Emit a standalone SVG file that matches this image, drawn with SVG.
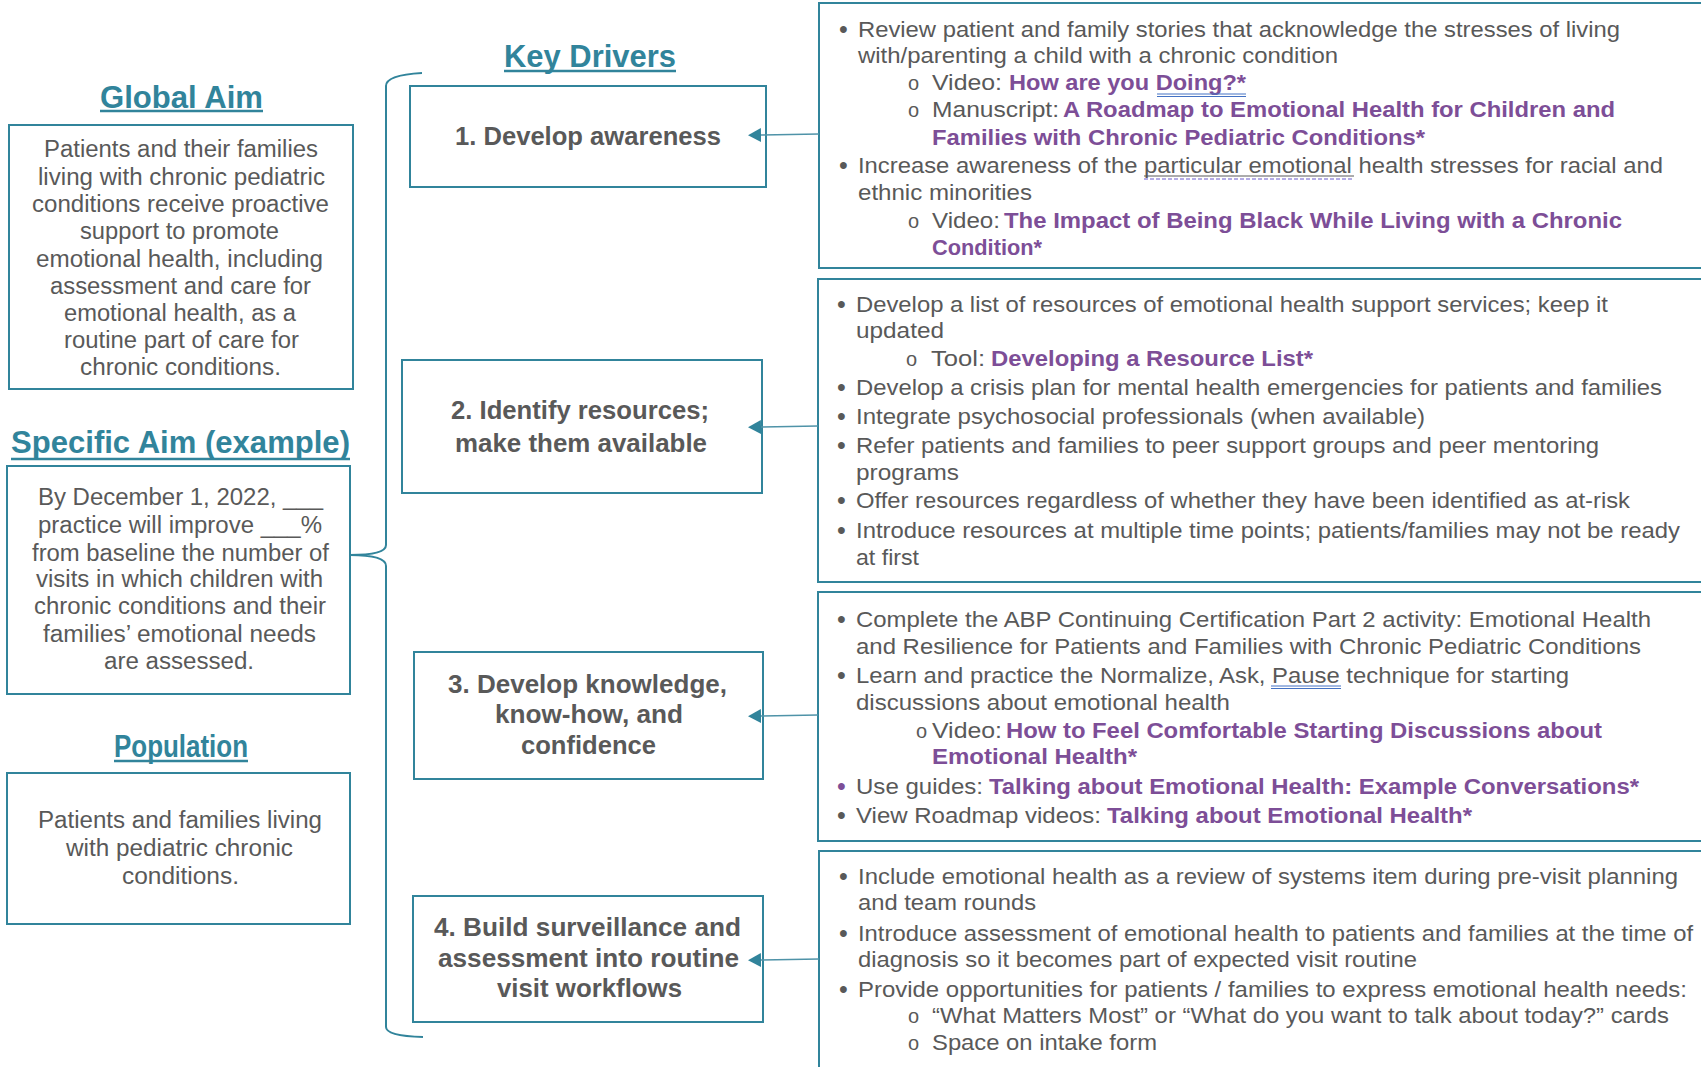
<svg xmlns="http://www.w3.org/2000/svg" width="1701" height="1067" viewBox="0 0 1701 1067">
<style>
text{font-family:'Liberation Sans',Arial,sans-serif;fill:#595959}
.box{fill:#fff;stroke:#31849B;stroke-width:2}
.ttl{fill:#31849B;font-weight:bold;font-size:31px}
.ul{stroke:#31849B;stroke-width:2.5}
.lt{font-size:23px}
.dr{font-size:25px;font-weight:bold}
.rt{font-size:22px}
.p{fill:#7D4E97;font-weight:bold;font-size:22px}
.bu{font-size:25px}
.so{font-size:20px}
.con{fill:none;stroke:#4f93a8;stroke-width:1.6}
.brace{fill:none;stroke:#31849B;stroke-width:2}
.sp{stroke:#4472C4;stroke-width:1}
</style>
<defs>
<marker id="ah" markerUnits="userSpaceOnUse" markerWidth="14" markerHeight="14" viewBox="0 0 14 14" refX="1" refY="7" orient="auto">
<path d="M14 0 L1 7 L14 14 Z" fill="#31849B" transform="rotate(180 7 7)"/>
</marker>
</defs>
<rect width="1701" height="1067" fill="#fff"/>

<g id="title-global-aim">
<text class="ttl" x="100" y="108" textLength="163" lengthAdjust="spacingAndGlyphs">Global Aim</text>
<line class="ul" x1="100" y1="111" x2="263" y2="111"/>
</g>
<g id="global-aim">
<rect class="box" x="9" y="125" width="344" height="264"/>
<text class="lt" x="44" y="157" textLength="274" lengthAdjust="spacingAndGlyphs">Patients and their families</text>
<text class="lt" x="38" y="185" textLength="287" lengthAdjust="spacingAndGlyphs">living with chronic pediatric</text>
<text class="lt" x="32" y="212" textLength="297" lengthAdjust="spacingAndGlyphs">conditions receive proactive</text>
<text class="lt" x="80" y="239" textLength="199" lengthAdjust="spacingAndGlyphs">support to promote</text>
<text class="lt" x="36" y="267" textLength="287" lengthAdjust="spacingAndGlyphs">emotional health, including</text>
<text class="lt" x="50" y="294" textLength="261" lengthAdjust="spacingAndGlyphs">assessment and care for</text>
<text class="lt" x="64" y="321" textLength="232" lengthAdjust="spacingAndGlyphs">emotional health, as a</text>
<text class="lt" x="64" y="348" textLength="235" lengthAdjust="spacingAndGlyphs">routine part of care for</text>
<text class="lt" x="80" y="375" textLength="201" lengthAdjust="spacingAndGlyphs">chronic conditions.</text>
</g>

<g id="title-specific-aim">
<text class="ttl" x="11" y="453" textLength="339" lengthAdjust="spacingAndGlyphs">Specific Aim (example)</text>
<line class="ul" x1="11" y1="459" x2="350" y2="459"/>
</g>
<g id="specific-aim">
<rect class="box" x="7" y="466" width="343" height="228"/>
<text class="lt" x="38" y="505" textLength="285" lengthAdjust="spacingAndGlyphs">By December 1, 2022, ___</text>
<text class="lt" x="38" y="533" textLength="284" lengthAdjust="spacingAndGlyphs">practice will improve ___%</text>
<text class="lt" x="32" y="561" textLength="297" lengthAdjust="spacingAndGlyphs">from baseline the number of</text>
<text class="lt" x="36" y="587" textLength="287" lengthAdjust="spacingAndGlyphs">visits in which children with</text>
<text class="lt" x="34" y="614" textLength="292" lengthAdjust="spacingAndGlyphs">chronic conditions and their</text>
<text class="lt" x="43" y="642" textLength="273" lengthAdjust="spacingAndGlyphs">families’ emotional needs</text>
<text class="lt" x="104" y="669" textLength="150" lengthAdjust="spacingAndGlyphs">are assessed.</text>
</g>

<g id="title-population">
<text class="ttl" x="114" y="757" textLength="134" lengthAdjust="spacingAndGlyphs">Population</text>
<line class="ul" x1="114" y1="761" x2="248" y2="761"/>
</g>
<g id="population">
<rect class="box" x="7" y="773" width="343" height="151"/>
<text class="lt" x="38" y="828" textLength="284" lengthAdjust="spacingAndGlyphs">Patients and families living</text>
<text class="lt" x="66" y="856" textLength="227" lengthAdjust="spacingAndGlyphs">with pediatric chronic</text>
<text class="lt" x="122" y="884" textLength="117" lengthAdjust="spacingAndGlyphs">conditions.</text>
</g>

<g id="title-key-drivers">
<text class="ttl" x="504" y="67" textLength="172" lengthAdjust="spacingAndGlyphs">Key Drivers</text>
<line class="ul" x1="504" y1="71" x2="676" y2="71"/>
</g>

<g id="driver-1">
<rect class="box" x="410" y="86" width="356" height="101"/>
<text class="dr" x="455" y="145" textLength="266" lengthAdjust="spacingAndGlyphs">1. Develop awareness</text>
</g>
<g id="driver-2">
<rect class="box" x="402" y="360" width="360" height="133"/>
<text class="dr" x="451" y="419" textLength="258" lengthAdjust="spacingAndGlyphs">2. Identify resources;</text>
<text class="dr" x="455" y="452" textLength="252" lengthAdjust="spacingAndGlyphs">make them available</text>
</g>
<g id="driver-3">
<rect class="box" x="414" y="652" width="349" height="127"/>
<text class="dr" x="448" y="693" textLength="279" lengthAdjust="spacingAndGlyphs">3. Develop knowledge,</text>
<text class="dr" x="495" y="723" textLength="188" lengthAdjust="spacingAndGlyphs">know-how, and</text>
<text class="dr" x="521" y="754" textLength="135" lengthAdjust="spacingAndGlyphs">confidence</text>
</g>
<g id="driver-4">
<rect class="box" x="413" y="896" width="350" height="126"/>
<text class="dr" x="434" y="936" textLength="307" lengthAdjust="spacingAndGlyphs">4. Build surveillance and</text>
<text class="dr" x="438" y="967" textLength="301" lengthAdjust="spacingAndGlyphs">assessment into routine</text>
<text class="dr" x="497" y="997" textLength="185" lengthAdjust="spacingAndGlyphs">visit workflows</text>
</g>

<g id="ideas-1">
<rect class="box" x="819" y="3" width="900" height="265"/>
<text class="bu" x="839" y="38">•</text>
<text class="rt" x="858" y="37" textLength="762" lengthAdjust="spacingAndGlyphs">Review patient and family stories that acknowledge the stresses of living</text>
<text class="rt" x="858" y="63" textLength="480" lengthAdjust="spacingAndGlyphs">with/parenting a child with a chronic condition</text>
<text class="so" x="908" y="90">o</text>
<text class="rt" x="932" y="90" textLength="70" lengthAdjust="spacingAndGlyphs">Video:</text>
<text class="p" x="1009" y="90" textLength="237" lengthAdjust="spacingAndGlyphs">How are you Doing?*</text>
<line class="sp" x1="1157" y1="94" x2="1246" y2="94"/>
<line class="sp" x1="1157" y1="96.5" x2="1246" y2="96.5"/>
<text class="so" x="908" y="117">o</text>
<text class="rt" x="932" y="117" textLength="127" lengthAdjust="spacingAndGlyphs">Manuscript:</text>
<text class="p" x="1063" y="117" textLength="552" lengthAdjust="spacingAndGlyphs">A Roadmap to Emotional Health for Children and</text>
<text class="p" x="932" y="145" textLength="493" lengthAdjust="spacingAndGlyphs">Families with Chronic Pediatric Conditions*</text>
<text class="bu" x="839" y="174">•</text>
<text class="rt" x="858" y="173" textLength="805" lengthAdjust="spacingAndGlyphs">Increase awareness of the particular emotional health stresses for racial and</text>
<line x1="1144" y1="176" x2="1354" y2="176" stroke="#595959" stroke-width="1"/>
<line x1="1144" y1="179" x2="1354" y2="179" stroke="#6a5acd" stroke-width="1.2" stroke-dasharray="4 2"/>
<text class="rt" x="858" y="200" textLength="174" lengthAdjust="spacingAndGlyphs">ethnic minorities</text>
<text class="so" x="908" y="228">o</text>
<text class="rt" x="932" y="228" textLength="68" lengthAdjust="spacingAndGlyphs">Video:</text>
<text class="p" x="1004" y="228" textLength="618" lengthAdjust="spacingAndGlyphs">The Impact of Being Black While Living with a Chronic</text>
<text class="p" x="932" y="255" textLength="110" lengthAdjust="spacingAndGlyphs">Condition*</text>
</g>

<g id="ideas-2">
<rect class="box" x="818" y="279" width="900" height="303"/>
<text class="bu" x="837" y="313">•</text>
<text class="rt" x="856" y="312" textLength="752" lengthAdjust="spacingAndGlyphs">Develop a list of resources of emotional health support services; keep it</text>
<text class="rt" x="856" y="338" textLength="88" lengthAdjust="spacingAndGlyphs">updated</text>
<text class="so" x="906" y="366">o</text>
<text class="rt" x="931" y="366" textLength="54" lengthAdjust="spacingAndGlyphs">Tool:</text>
<text class="p" x="991" y="366" textLength="322" lengthAdjust="spacingAndGlyphs">Developing a Resource List*</text>
<text class="bu" x="837" y="396">•</text>
<text class="rt" x="856" y="395" textLength="806" lengthAdjust="spacingAndGlyphs">Develop a crisis plan for mental health emergencies for patients and families</text>
<text class="bu" x="837" y="425">•</text>
<text class="rt" x="856" y="424" textLength="569" lengthAdjust="spacingAndGlyphs">Integrate psychosocial professionals (when available)</text>
<text class="bu" x="837" y="454">•</text>
<text class="rt" x="856" y="453" textLength="743" lengthAdjust="spacingAndGlyphs">Refer patients and families to peer support groups and peer mentoring</text>
<text class="rt" x="856" y="480" textLength="103" lengthAdjust="spacingAndGlyphs">programs</text>
<text class="bu" x="837" y="509">•</text>
<text class="rt" x="856" y="508" textLength="774" lengthAdjust="spacingAndGlyphs">Offer resources regardless of whether they have been identified as at-risk</text>
<text class="bu" x="837" y="539">•</text>
<text class="rt" x="856" y="538" textLength="824" lengthAdjust="spacingAndGlyphs">Introduce resources at multiple time points; patients/families may not be ready</text>
<text class="rt" x="856" y="565" textLength="63" lengthAdjust="spacingAndGlyphs">at first</text>
</g>

<g id="ideas-3">
<rect class="box" x="818" y="592" width="900" height="249"/>
<text class="bu" x="837" y="628">•</text>
<text class="rt" x="856" y="627" textLength="795" lengthAdjust="spacingAndGlyphs">Complete the ABP Continuing Certification Part 2 activity: Emotional Health</text>
<text class="rt" x="856" y="654" textLength="785" lengthAdjust="spacingAndGlyphs">and Resilience for Patients and Families with Chronic Pediatric Conditions</text>
<text class="bu" x="837" y="684">•</text>
<text class="rt" x="856" y="683" textLength="713" lengthAdjust="spacingAndGlyphs">Learn and practice the Normalize, Ask, Pause technique for starting</text>
<line class="sp" x1="1271" y1="686" x2="1341" y2="686"/>
<line class="sp" x1="1271" y1="688.5" x2="1341" y2="688.5"/>
<text class="rt" x="856" y="710" textLength="374" lengthAdjust="spacingAndGlyphs">discussions about emotional health</text>
<text class="so" x="916" y="738">o</text>
<text class="rt" x="932" y="738" textLength="70" lengthAdjust="spacingAndGlyphs">Video:</text>
<text class="p" x="1006" y="738" textLength="596" lengthAdjust="spacingAndGlyphs">How to Feel Comfortable Starting Discussions about</text>
<text class="p" x="932" y="764" textLength="205" lengthAdjust="spacingAndGlyphs">Emotional Health*</text>
<text class="bu" x="837" y="795" style="fill:#7D4E97">•</text>
<text class="rt" x="856" y="794" textLength="127" lengthAdjust="spacingAndGlyphs">Use guides:</text>
<text class="p" x="989" y="794" textLength="650" lengthAdjust="spacingAndGlyphs">Talking about Emotional Health: Example Conversations*</text>
<text class="bu" x="837" y="824">•</text>
<text class="rt" x="856" y="823" textLength="245" lengthAdjust="spacingAndGlyphs">View Roadmap videos:</text>
<text class="p" x="1107" y="823" textLength="365" lengthAdjust="spacingAndGlyphs">Talking about Emotional Health*</text>
</g>

<g id="ideas-4">
<rect class="box" x="819" y="851" width="900" height="230"/>
<text class="bu" x="839" y="885">•</text>
<text class="rt" x="858" y="884" textLength="820" lengthAdjust="spacingAndGlyphs">Include emotional health as a review of systems item during pre-visit planning</text>
<text class="rt" x="858" y="910" textLength="178" lengthAdjust="spacingAndGlyphs">and team rounds</text>
<text class="bu" x="839" y="942">•</text>
<text class="rt" x="858" y="941" textLength="835" lengthAdjust="spacingAndGlyphs">Introduce assessment of emotional health to patients and families at the time of</text>
<text class="rt" x="858" y="967" textLength="559" lengthAdjust="spacingAndGlyphs">diagnosis so it becomes part of expected visit routine</text>
<text class="bu" x="839" y="998">•</text>
<text class="rt" x="858" y="997" textLength="829" lengthAdjust="spacingAndGlyphs">Provide opportunities for patients / families to express emotional health needs:</text>
<text class="so" x="908" y="1023">o</text>
<text class="rt" x="932" y="1023" textLength="737" lengthAdjust="spacingAndGlyphs">“What Matters Most” or “What do you want to talk about today?” cards</text>
<text class="so" x="908" y="1050">o</text>
<text class="rt" x="932" y="1050" textLength="225" lengthAdjust="spacingAndGlyphs">Space on intake form</text>
</g>

<g id="connectors">
<path class="brace" d="M422 73 Q386 75 386 86 L386 545 Q386 555 350 555 Q386 555 386 566 L386 1027 Q386 1036 423 1037"/>
<path class="con" d="M819 134 L760 135" marker-end="url(#ah)"/>
<path class="con" d="M818 426 L760 427" marker-end="url(#ah)"/>
<path class="con" d="M818 715 L760 716" marker-end="url(#ah)"/>
<path class="con" d="M819 959 L760 960" marker-end="url(#ah)"/>
</g>
</svg>
